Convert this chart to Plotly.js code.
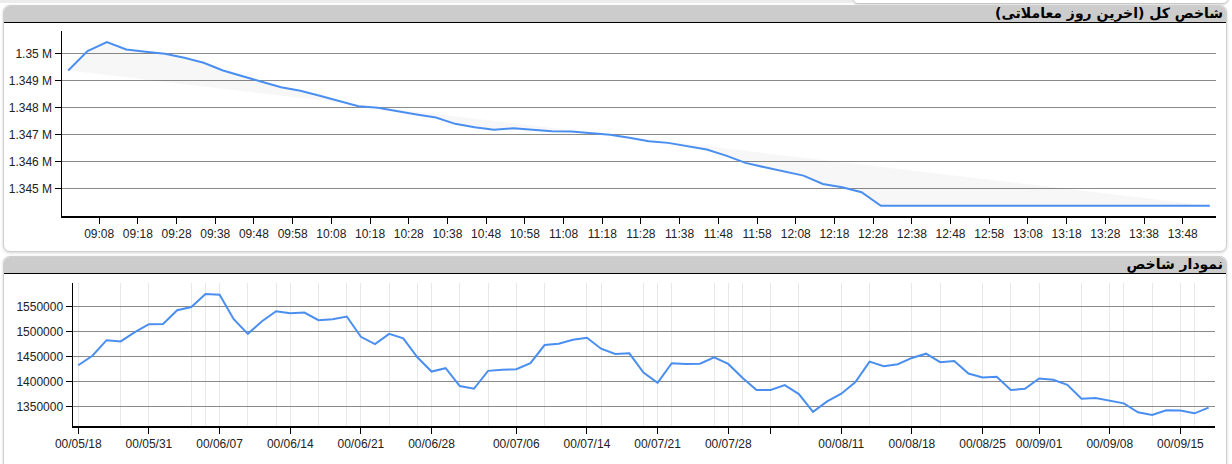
<!DOCTYPE html>
<html><head><meta charset="utf-8">
<script src="https://cdn.plot.ly/plotly-3.0.1.min.js"></script>
<style>
html,body{margin:0;padding:0;background:#fff;width:1232px;height:464px;overflow:hidden;position:relative;font-family:"Liberation Sans",Arial,sans-serif;}
.topstrip{position:absolute;left:0;top:0;width:852px;height:3px;background:#ececec;}
.topbox{position:absolute;left:852px;top:-10px;width:375px;height:12px;background:#fff;border:1px solid #c8c8c8;border-radius:0 0 6px 6px;box-shadow:0 1px 2px rgba(0,0,0,0.12);}
.panel{position:absolute;left:3px;width:1222px;background:#fff;border:1px solid #cfcfcf;border-radius:7px;box-shadow:0 1px 3px rgba(0,0,0,0.18);overflow:hidden;}
.hdr{position:absolute;left:0;top:0;right:0;height:16px;background:#cccccc;border-bottom:1.5px solid #000;}
.ttl{position:absolute;right:3px;top:-1px;direction:rtl;font-family:"DejaVu Sans",Tahoma,sans-serif;font-size:14px;color:#000;white-space:nowrap;}
.chart{position:absolute;left:0;width:1232px;}
</style></head>
<body>
<div class="topstrip"></div><div class="topbox"></div>
<div class="panel" id="p1" style="top:5px;height:245px;"><div class="hdr"><div class="ttl" style="font-weight:bold;">شاخص کل (آخرین روز معاملاتی)</div></div></div>
<div class="panel" id="p2" style="top:256px;height:220px;"><div class="hdr"><div class="ttl" style="font-weight:bold;">نمودار شاخص</div></div></div>
<div class="chart" id="c1" style="top:0;height:250px;"></div>
<div class="chart" id="c2" style="top:250px;height:214px;"></div>
<script>
// ---- Top chart: intraday index (last trading day), 5-minute samples ----
const intradayTimes = ["09:00","09:05","09:10","09:15","09:20","09:25","09:30","09:35","09:40","09:45",
"09:50","09:55","10:00","10:05","10:10","10:15","10:20","10:25","10:30","10:35",
"10:40","10:45","10:50","10:55","11:00","11:05","11:10","11:15","11:20","11:25",
"11:30","11:35","11:40","11:45","11:50","11:55","12:00","12:05","12:10","12:15",
"12:20","12:25","12:30","12:35","12:40","12:45","12:50","12:55","13:00","13:05",
"13:10","13:15","13:20","13:25","13:30","13:35","13:40","13:45","13:50","13:55"];
const intradayValues = [1349381,1350096,1350430,1350159,1350074,1350000,1349852,1349667,1349381,1349159,
1348963,1348763,1348630,1348444,1348259,1348059,1348000,1347863,1347752,1347641,
1347407,1347281,1347185,1347244,1347196,1347133,1347122,1347074,1347000,1346889,
1346763,1346704,1346567,1346456,1346233,1345963,1345800,1345641,1345493,1345185,
1345060,1344877,1344381,1344381,1344381,1344381,1344381,1344381,1344381,1344381,
1344381,1344381,1344381,1344381,1344381,1344381,1344381,1344381,1344381,1344381];
const intradayTickVals = [1345000,1346000,1347000,1348000,1349000,1350000];
const intradayTickText = ["1.345 M","1.346 M","1.347 M","1.348 M","1.349 M","1.35 M"];

// ---- Bottom chart: daily index ----
const dailyValues = [1433000,1452000,1483000,1480500,1499000,1515000,1515500,1542700,1549000,1575000,
1573700,1524800,1495700,1520900,1540700,1536700,1538000,1522900,1524800,1530200,
1489800,1475300,1495700,1486600,1449000,1420500,1427200,1391600,1386200,1421900,
1423900,1425200,1437100,1473400,1476000,1483900,1487800,1466000,1455500,1456900,
1418500,1398100,1437100,1435700,1436300,1449000,1435700,1408000,1383700,1383700,
1393600,1375700,1340100,1361100,1376300,1399500,1440300,1431200,1435100,1447600,
1456100,1439100,1441700,1416500,1408600,1410000,1383700,1386200,1406600,1404100,
1394200,1366400,1367800,1363100,1357100,1339300,1334200,1343300,1342700,1337300,1348600];
const dailyTickIndex = [0,5,10,15,20,25,31,36,41,46,49,54,59,64,68,73,78];
const dailyTickText = ["00/05/18","00/05/31","00/06/07","00/06/14","00/06/21","00/06/28","00/07/06","00/07/14","00/07/21","00/07/28","","00/08/11","00/08/18","00/08/25","00/09/01","00/09/08","00/09/15"];
const dailyGridIndex = [3,8,9,12,14,17,19,22,24,27,29,33,37,40,42,45,47,51,56,61,66,71,74,76,79];
const dailyY = [1350000,1400000,1450000,1500000,1550000];

const day = "2021-12-11 ";
const tx = intradayTimes.map(t => day + t);
const n = tx.length;
const blue = "#4a8ff0";
const tickFont = {family:"Liberation Sans, Arial, sans-serif", size:12, color:"#222"};

Plotly.newPlot("c1", [
  {x:[tx[0], tx[n-1]], y:[intradayValues[0], intradayValues[n-1]], mode:"lines", line:{width:0, color:"rgba(0,0,0,0)"}, hoverinfo:"skip", showlegend:false},
  {x:tx, y:intradayValues, mode:"lines", line:{color:blue, width:2}, fill:"tonexty", fillcolor:"rgba(0,0,0,0.03)", showlegend:false}
], {
  width:1232, height:250, margin:{l:62, r:16, t:31, b:34},
  paper_bgcolor:"rgba(0,0,0,0)", plot_bgcolor:"rgba(0,0,0,0)",
  xaxis:{type:"date", range:[day+"08:58:24", day+"13:56:36"], tick0:day+"09:08", dtick:600000, tickformat:"%H:%M",
    showgrid:false, zeroline:false, showline:true, linecolor:"#000", linewidth:1.5, ticks:"outside", ticklen:6, tickcolor:"#000", tickfont:tickFont},
  yaxis:{range:[1344000,1350840], tickmode:"array", tickvals:intradayTickVals, ticktext:intradayTickText,
    showgrid:true, gridcolor:"#8a8a8a", gridwidth:1, zeroline:false, showline:true, linecolor:"#000", linewidth:1.5,
    ticks:"outside", ticklen:6, tickcolor:"#000", tickfont:tickFont}
}, {staticPlot:true});

const idx = dailyValues.map((v,i) => i);
Plotly.newPlot("c2", [
  {x:idx, y:dailyValues, mode:"lines", line:{color:blue, width:2}, showlegend:false}
], {
  width:1232, height:214, margin:{l:73, r:17, t:33, b:38},
  paper_bgcolor:"rgba(0,0,0,0)", plot_bgcolor:"rgba(0,0,0,0)",
  xaxis:{range:[-0.375,80.45], tickmode:"array", tickvals:dailyTickIndex, ticktext:dailyTickText,
    showgrid:true, gridcolor:"#e8e8e8", gridwidth:1, zeroline:false, showline:true, linecolor:"#000", linewidth:1.5,
    ticks:"outside", ticklen:6, tickcolor:"#000", tickfont:tickFont,
    minor:{tickmode:"array", tickvals:dailyGridIndex, showgrid:true, gridcolor:"#e8e8e8", gridwidth:1, ticks:""}},
  yaxis:{range:[1312000,1597000], tickmode:"array", tickvals:dailyY, tickformat:"d",
    showgrid:true, gridcolor:"#8a8a8a", gridwidth:1, zeroline:false, showline:true, linecolor:"#000", linewidth:1.5,
    ticks:"outside", ticklen:6, tickcolor:"#000", tickfont:tickFont}
}, {staticPlot:true});
</script>
</body></html>
